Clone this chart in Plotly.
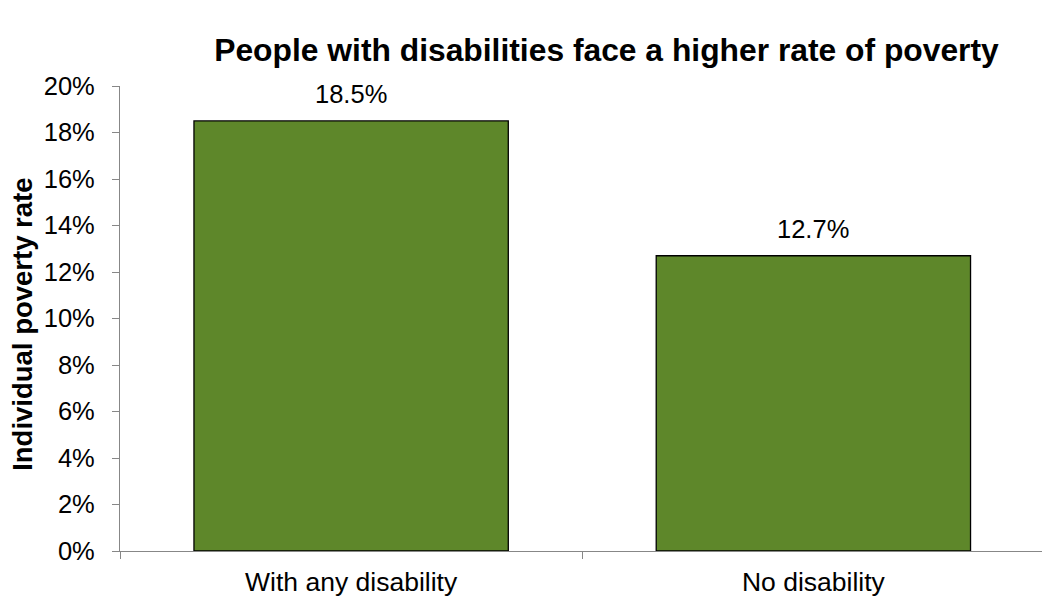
import plotly.graph_objects as go

# Poverty rates by disability status
categories = ["With any disability", "No disability"]
poverty_rate = [0.185, 0.127]
rate_labels = ["18.5%", "12.7%"]
y_ticks = [0.00, 0.02, 0.04, 0.06, 0.08, 0.10, 0.12, 0.14, 0.16, 0.18, 0.20]

FONT = "Liberation Sans, Arial, sans-serif"
AXIS_GRAY = "#878787"

fig = go.Figure(
    go.Bar(
        x=categories,
        y=poverty_rate,
        width=0.68,
        marker=dict(color="#5E872A", line=dict(color="#000000", width=1.3)),
        hoverinfo="skip",
    )
)

# value labels above each bar
for cat, val, lab in zip(categories, poverty_rate, rate_labels):
    fig.add_annotation(
        x=cat, y=val, text=lab, showarrow=False,
        yanchor="bottom", yshift=11,
        font=dict(family=FONT, size=25.5, color="#000000"),
    )

# vertical axis title
fig.add_annotation(
    text="<b>Individual poverty rate</b>",
    xref="paper", yref="paper",
    x=-119.5 / 922.5 + 22 / 922.5, y=(550.7 - 324) / 465.0,
    xanchor="center", yanchor="middle",
    textangle=-90, showarrow=False,
    font=dict(family=FONT, size=27.5, color="#000000"),
)

fig.update_layout(
    width=1042, height=598,
    margin=dict(l=119.5, r=0, t=85.7, b=47.3),
    paper_bgcolor="white", plot_bgcolor="white",
    showlegend=False,
    title=dict(
        text="<b>People with disabilities face a higher rate of poverty</b>",
        x=606.5 / 1042, xanchor="center", xref="container",
        y=1 - 50 / 598, yanchor="middle", yref="container",
        font=dict(family=FONT, size=31.8, color="#000000"),
    ),
    xaxis=dict(
        type="category",
        range=[-0.5, 1.4946],
        showline=True, linecolor=AXIS_GRAY, linewidth=1.3,
        ticks="outside", tickson="boundaries", ticklen=7, tickcolor=AXIS_GRAY, tickwidth=1.3,
        tickfont=dict(family=FONT, size=26.5, color="#000000"),
        ticklabelstandoff=7,
        showgrid=False, zeroline=False,
    ),
    yaxis=dict(
        range=[0, 0.2],
        tickvals=y_ticks,
        tickformat=".0%",
        showline=True, linecolor=AXIS_GRAY, linewidth=1.3,
        ticks="outside", ticklen=7, tickcolor=AXIS_GRAY, tickwidth=1.3,
        tickfont=dict(family=FONT, size=25.5, color="#000000"),
        ticklabelstandoff=12,
        showgrid=False, zeroline=False,
    ),
)

fig.write_html("out.html")
